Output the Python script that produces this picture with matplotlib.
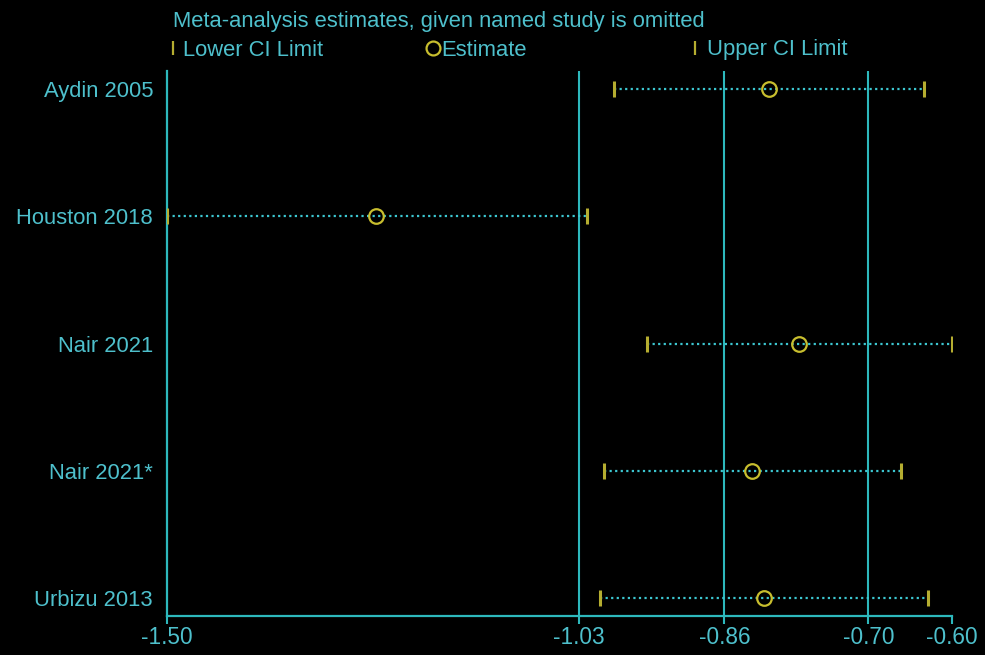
import matplotlib
matplotlib.use("Agg")
import matplotlib.pyplot as plt

# Leave-one-out meta-analysis: estimate and CI with each study omitted
studies = ["Aydin 2005", "Houston 2018", "Nair 2021", "Nair 2021*", "Urbizu 2013"]
estimate = [-0.810, -1.260, -0.775, -0.829, -0.816]
lower = [-0.988, -1.500, -0.950, -0.999, -1.004]
upper = [-0.632, -1.019, -0.600, -0.659, -0.628]

# Full-model lower CI, estimate, upper CI
overall = [-1.028, -0.861, -0.696]

tick_values = [-1.50, -1.028, -0.861, -0.696, -0.60]
tick_labels = ["-1.50", "-1.03", "-0.86", "-0.70", "-0.60"]

BG = "#000000"
CYAN_TXT = "#4EC0CC"
CYAN_LN = "#2DB8BC"
CYAN_DOT = "#3CC6D0"
YELLOW = "#B5AD30"
CIRCLE = "#C8BE2E"
FONT = "Liberation Sans"
FS = 15.8

fig = plt.figure(figsize=(9.85, 6.55), dpi=100, facecolor=BG)
ax = fig.add_axes([167 / 985, 1 - 616 / 655, (952 - 167) / 985, (616 - 71) / 655])
ax.set_facecolor(BG)

ypos = list(range(1, len(studies) + 1))

for v in overall:
    ax.axvline(v, color=CYAN_LN, lw=1.5, zorder=1)

for y, lo, est, hi in zip(ypos, lower, estimate, upper):
    ax.plot([lo, hi], [y, y], color=CYAN_DOT, lw=1.6, ls=(0, (1, 1.5)), zorder=2)
    ax.plot([lo, hi], [y, y], ls="none", marker="|", ms=11, mew=2.2,
            color=YELLOW, zorder=3)
    ax.plot([est], [y], ls="none", marker="o", ms=10.5, mew=1.6,
            mfc="none", mec=CIRCLE, zorder=4)

ax.set_xlim(-1.50, -0.60)
ax.set_ylim(5.14, 0.86)

ax.set_yticks(ypos)
ax.set_yticklabels(studies)
ax.set_xticks(tick_values)
ax.set_xticklabels(tick_labels)
ax.tick_params(axis="y", length=0, pad=10, labelcolor=CYAN_TXT, labelsize=FS)
ax.tick_params(axis="x", length=6, width=1.5, color=CYAN_LN, pad=1.5,
               labelcolor=CYAN_TXT, labelsize=16.3)
for lab in ax.get_xticklabels() + ax.get_yticklabels():
    lab.set_fontfamily(FONT)

for side in ("top", "right"):
    ax.spines[side].set_visible(False)
for side in ("left", "bottom"):
    ax.spines[side].set_color(CYAN_LN)
    ax.spines[side].set_linewidth(1.6)

# Header: title and key
fig.text(173 / 985, 1 - 21 / 655, "Meta-analysis estimates, given named study is omitted",
         color=CYAN_TXT, fontsize=FS, family=FONT, va="center", ha="left")

key_y = 1 - 50 / 655
mark_y = 1 - 48 / 655
fig.lines.append(plt.Line2D([173 / 985], [mark_y], transform=fig.transFigure,
                            marker="|", ms=10, mew=1.6, color=YELLOW, ls="none"))
fig.text(183 / 985, key_y, "Lower CI Limit", color=CYAN_TXT, fontsize=FS,
         family=FONT, va="center", ha="left")
fig.lines.append(plt.Line2D([433 / 985], [mark_y], transform=fig.transFigure,
                            marker="o", ms=10, mew=1.6, mfc="none", mec=CIRCLE,
                            ls="none"))
fig.text(441 / 985, key_y, "Estimate", color=CYAN_TXT, fontsize=FS,
         family=FONT, va="center", ha="left")
fig.lines.append(plt.Line2D([695 / 985], [mark_y], transform=fig.transFigure,
                            marker="|", ms=10, mew=1.6, color=YELLOW, ls="none"))
fig.text(707 / 985, key_y, "Upper CI Limit", color=CYAN_TXT, fontsize=FS,
         family=FONT, va="center", ha="left")

fig.savefig("out.png", dpi=100, facecolor=BG)
